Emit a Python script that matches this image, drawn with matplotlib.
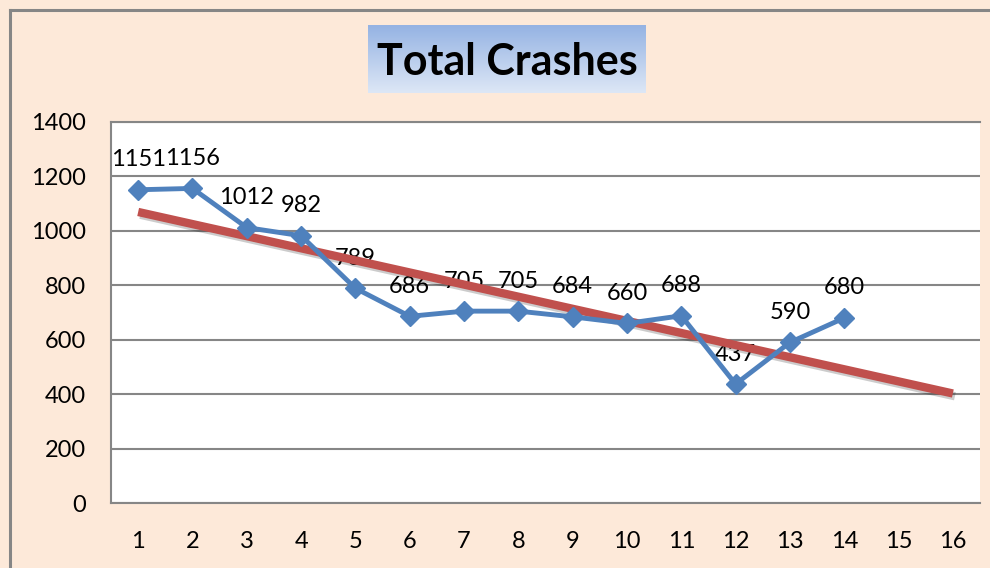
import numpy as np
import matplotlib
matplotlib.use("Agg")
import matplotlib.pyplot as plt
import matplotlib.patheffects as pe

plt.rcParams['font.family'] = ['Lato', 'DejaVu Sans']

periods = list(range(1, 15))
crashes = [1151, 1156, 1012, 982, 789, 686, 705, 705, 684, 660, 688, 437, 590, 680]
x_ticks = list(range(1, 17))
y_ticks = [0, 200, 400, 600, 800, 1000, 1200, 1400]

peach = "#FDE9D9"
grey = "#868686"

fig = plt.figure(figsize=(9.9, 5.68), dpi=100, facecolor=peach)

# outer frame (left and top edge visible)
fig.add_artist(plt.Line2D([10/990, 10/990], [0, 1 - 10/568], color=grey, lw=2.2))
fig.add_artist(plt.Line2D([10/990, 1], [1 - 10/568, 1 - 10/568], color=grey, lw=2.2))

ax = fig.add_axes([111/990, 1 - 503/568, 869/990, 381/568])
ax.set_facecolor("white")

# linear trend, forecast two periods ahead
slope, icept = np.polyfit(periods, crashes, 1)
tx = np.array([1, 16])
ax.plot(tx, slope * tx + icept, color="#C0504D", lw=6, solid_capstyle="butt", zorder=3,
        path_effects=[pe.SimpleLineShadow(offset=(1.5, -2), alpha=0.2), pe.Normal()])

ax.plot(periods, crashes, color="#4F81BD", lw=3.5, marker="D", markersize=10, zorder=4)

for xv, yv in zip(periods, crashes):
    ax.annotate(str(yv), (xv, yv), xytext=(0, 14), textcoords="offset points",
                ha="center", va="bottom", fontsize=17, zorder=2)

ax.set_xlim(0.5, 16.5)
ax.set_ylim(0, 1400)
ax.set_xticks(x_ticks)
ax.set_yticks(y_ticks)
ax.tick_params(axis="both", length=0, labelsize=17)
ax.tick_params(axis="x", pad=20)
ax.tick_params(axis="y", pad=18)
ax.grid(axis="y", color=grey, lw=1.5)
ax.set_axisbelow(True)
for s in ax.spines.values():
    s.set_color(grey)
    s.set_linewidth(1.5)
ax.spines["right"].set_visible(False)

# title box with gradient
tax = fig.add_axes([368/990, 1 - 93/568, 278/990, 68/568])
grad = np.linspace(0, 1, 100).reshape(-1, 1)
top = np.array([0x95, 0xB3, 0xE3]) / 255
bot = np.array([0xDD, 0xE7, 0xF6]) / 255
img = top + (bot - top) * grad[:, :, None]
tax.imshow(img, aspect="auto", extent=[0, 1, 0, 1])
tax.set_axis_off()
tax.text(0.5, 0.45, "Total Crashes", ha="center", va="center", fontsize=31,
         fontweight="bold", transform=tax.transAxes)

fig.savefig("out.png", dpi=100, facecolor=peach)
